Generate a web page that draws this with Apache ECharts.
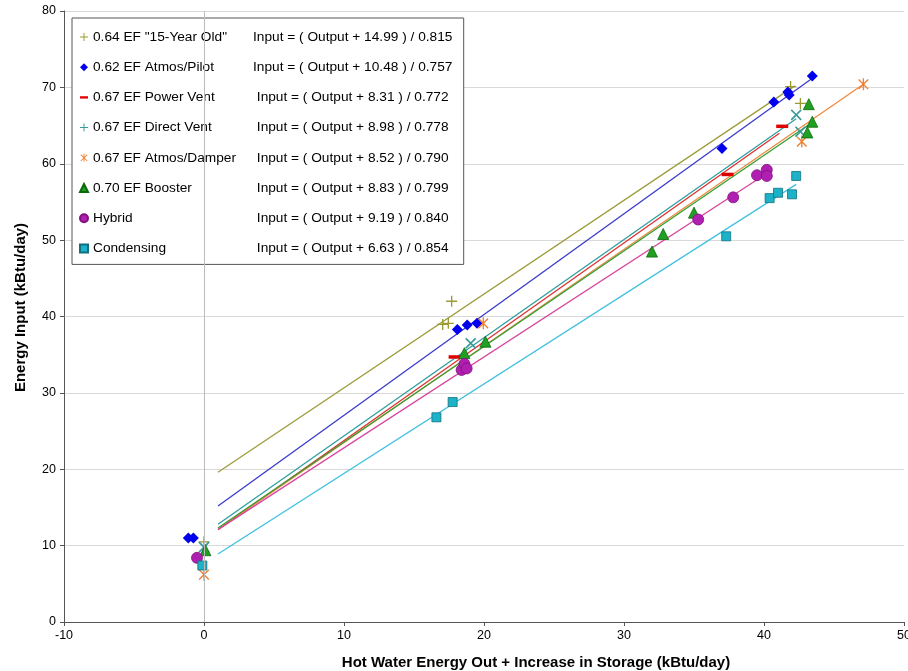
<!DOCTYPE html>
<html>
<head>
<meta charset="utf-8">
<script src="https://cdn.jsdelivr.net/npm/echarts@6/dist/echarts.min.js"></script>
<style>html,body{margin:0;padding:0;background:#fff}#c{width:908px;height:671px}</style>
</head>
<body>
<div id="c"></div>
<script>
// ---- data ----
var seriesNames = ['0.64 EF "15-Year Old"', '0.62 EF Atmos/Pilot', '0.67 EF Power Vent', '0.67 EF Direct Vent', '0.67 EF Atmos/Damper', '0.70 EF Booster', 'Hybrid', 'Condensing'];
var equations = ['Input = ( Output + 14.99 ) / 0.815', 'Input = ( Output + 10.48 ) / 0.757', 'Input = ( Output + 8.31 ) / 0.772', 'Input = ( Output + 8.98 ) / 0.778', 'Input = ( Output + 8.52 ) / 0.790', 'Input = ( Output + 8.83 ) / 0.799', 'Input = ( Output + 9.19 ) / 0.840', 'Input = ( Output + 6.63 ) / 0.854'];

var oldX = [0.0, 17.05, 17.45, 17.69, 41.9, 42.6];
var oldY = [10.5, 38.96, 39.1, 42.0, 70.1, 67.9];
var pilotX = [-1.12, -0.76, 18.1, 18.8, 19.5, 37.0, 40.7, 41.7, 41.8, 43.45];
var pilotY = [11.0, 11.0, 38.3, 38.9, 39.1, 62.0, 68.1, 69.4, 69.0, 71.5];
var powerX = [17.9, 37.4, 41.3];
var powerY = [34.7, 58.6, 64.9];
var directX = [0.0, 19.05, 42.3, 42.6];
var directY = [9.8, 36.5, 66.4, 64.2];
var damperX = [0.0, 19.95, 42.7, 47.1];
var damperY = [6.2, 39.1, 62.9, 70.4];
var boosterX = [0.1, 18.6, 20.1, 32.0, 32.8, 35.0, 43.1, 43.2, 43.45];
var boosterY = [9.4, 35.2, 36.7, 48.5, 50.8, 53.6, 64.1, 67.8, 65.5];
var hybridX = [-0.5, 18.4, 18.6, 18.76, 35.3, 37.8, 39.5, 40.2, 40.2];
var hybridY = [8.4, 33.0, 33.8, 33.2, 52.7, 55.6, 58.5, 59.2, 58.4];
var condX = [-0.12, 16.6, 17.76, 37.3, 40.4, 41.0, 42.0, 42.3];
var condY = [7.4, 26.8, 28.8, 50.5, 55.5, 56.2, 56.0, 58.4];

// trend line end points (x, y)
var fitX = [[1, 42.2], [1, 43.45], [1, 41.1], [1, 42.3], [1, 47.1], [1, 43.2], [1, 40.0], [1, 42.3]];
var fitY = [[19.6, 70.2], [15.2, 71.2], [12.1, 64.0], [12.8, 65.9], [12.1, 70.4], [12.3, 65.1], [12.1, 58.5], [8.9, 57.3]];

var xTicks = [-10, 0, 10, 20, 30, 40, 50];
var yTicks = [0, 10, 20, 30, 40, 50, 60, 70, 80];

// ---- styling ----
var PLUS = 'path://M8.8,0h2.4v8.8h8.8v2.4h-8.8v8.8h-2.4v-8.8h-8.8v-2.4h8.8z';
var STAR = 'path://M8.9,0h2.2v20h-2.2z M1.2,2.8L2.8,1.2L18.8,17.2L17.2,18.8z M17.2,1.2L18.8,2.8L2.8,18.8L1.2,17.2z';
var DASH = 'path://M0,0h12v3.5h-12z';

var markerStyle = [
  {symbol: PLUS, size: 11, rotate: 0, color: '#9A9A30', border: null},
  {symbol: 'diamond', size: 11, rotate: 0, color: '#0000EE', border: null},
  {symbol: 'rect', size: [12, 3.5], rotate: 0, color: '#E00000', border: null},
  {symbol: PLUS, size: 14, rotate: 45, color: '#3A9A9A', border: null},
  {symbol: STAR, size: 12, rotate: 0, color: '#F08030', border: null},
  {symbol: 'triangle', size: 11, rotate: 0, color: '#20A020', border: '#0A6A0A'},
  {symbol: 'circle', size: 11, rotate: 0, color: '#B020B0', border: '#801080'},
  {symbol: 'rect', size: 9, rotate: 0, color: '#1CB3C8', border: '#10707F'}
];
var lineColors = ['#9C9C3A', '#3A3ACC', '#E03030', '#2E9E9E', '#F08840', '#33A033', '#D8469C', '#40C0E0'];

var xs = [oldX, pilotX, powerX, directX, damperX, boosterX, hybridX, condX];
var ys = [oldY, pilotY, powerY, directY, damperY, boosterY, hybridY, condY];

var series = [];
for (var i = 0; i < 8; i++) {
  series.push({
    type: 'line', name: 'fit' + i, silent: true, symbol: 'none',
    lineStyle: {color: lineColors[i], width: 1.3},
    data: [[fitX[i][0], fitY[i][0]], [fitX[i][1], fitY[i][1]]],
    z: 2,
    markLine: i === 0 ? {silent: true, symbol: 'none', label: {show: false},
      lineStyle: {color: '#BBBBBB', width: 1, type: 'solid'}, data: [{xAxis: 0}]} : undefined
  });
}
for (var j = 0; j < 8; j++) {
  var pts = [];
  for (var k = 0; k < xs[j].length; k++) pts.push([xs[j][k], ys[j][k]]);
  var m = markerStyle[j];
  series.push({
    type: 'scatter', name: seriesNames[j], symbol: m.symbol, symbolSize: m.size, symbolRotate: m.rotate,
    symbolKeepAspect: true,
    itemStyle: {color: m.color, borderColor: m.border || m.color, borderWidth: m.border ? 0.8 : 0, opacity: 1},
    data: pts, z: 3
  });
}

var legendData = seriesNames.map(function (n, i) {
  var d = {name: n};
  if (i === 2) d.icon = DASH;
  return d;
});

var chart = echarts.init(document.getElementById('c'), null, {renderer: 'canvas'});
chart.setOption({
  animation: false,
  backgroundColor: '#fff',
  textStyle: {fontFamily: 'Liberation Sans, Arial, sans-serif'},
  grid: {left: 64, top: 11, right: 4, bottom: 49, containLabel: false, outerBoundsMode: 'none'},
  legend: {
    orient: 'vertical', left: 72, top: 18,
    padding: [11, 5, 8, 7],
    backgroundColor: '#fff', borderColor: '#555', borderWidth: 1,
    itemWidth: 8, itemHeight: 8, itemGap: 14.2,
    symbolKeepAspect: true,
    data: legendData,
    selectedMode: false,
    textStyle: {fontSize: 13.7, color: '#000', lineHeight: 16,
      rich: {
        a: {width: 153.7, fontSize: 13.7, color: '#000', lineHeight: 16},
        b: {width: 212, align: 'center', fontSize: 13.7, color: '#000', lineHeight: 16}
      }},
    formatter: function (name) {
      var idx = seriesNames.indexOf(name);
      return '{a|' + name + '}{b|' + equations[idx] + '}';
    }
  },
  xAxis: {
    type: 'value', min: xTicks[0], max: xTicks[xTicks.length - 1], interval: 10,
    name: 'Hot Water Energy Out + Increase in Storage (kBtu/day)',
    nameLocation: 'middle', nameGap: 33,
    nameTextStyle: {fontSize: 15, fontWeight: 'bold', color: '#000', padding: [0, 0, 0, 104]},
    axisLine: {onZero: false, lineStyle: {color: '#555', width: 1}},
    axisTick: {show: true, length: 4, lineStyle: {color: '#555'}},
    axisLabel: {fontSize: 12.5, color: '#000', margin: 7},
    splitLine: {show: false}
  },
  yAxis: {
    type: 'value', min: yTicks[0], max: yTicks[yTicks.length - 1], interval: 10,
    name: 'Energy Input (kBtu/day)',
    nameLocation: 'middle', nameGap: 36,
    nameTextStyle: {fontSize: 15, fontWeight: 'bold', color: '#000', padding: [0, 0, 0, 18]},
    axisLine: {show: true, onZero: false, lineStyle: {color: '#555', width: 1}},
    axisTick: {show: true, length: 4, lineStyle: {color: '#555'}},
    axisLabel: {fontSize: 12.5, color: '#000', margin: 8},
    splitLine: {show: true, lineStyle: {color: '#D9D9D9', width: 1}}
  },
  series: series
});
</script>
</body>
</html>
